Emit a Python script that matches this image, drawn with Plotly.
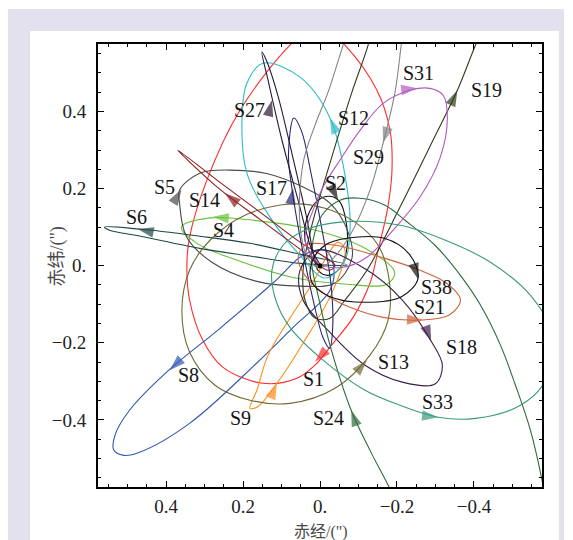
import plotly.graph_objects as go

# ---- orbit tracks (arcsec; x = RA offset, y = Dec offset) ----
S1_x = [0.078, 0.208, 0.294, 0.339, 0.346, 0.339, 0.305, 0.253, 0.148, 0.060, 0.008, -0.026, -0.086, -0.130, -0.151, -0.176, -0.187, -0.182, -0.148, -0.065, 0.005, 0.078]
S1_y = [0.572, 0.403, 0.222, 0.074, 0.001, -0.089, -0.193, -0.263, -0.305, -0.292, -0.253, -0.211, -0.134, -0.045, 0.040, 0.150, 0.245, 0.351, 0.455, 0.572, 0.630, 0.572]
S2_x = [0.013, 0.039, 0.031, 0.005, -0.026, -0.052, -0.068, -0.070, -0.052, -0.021, 0.005, 0.013]
S2_y = [0.009, 0.066, 0.131, 0.170, 0.180, 0.165, 0.113, 0.045, -0.006, -0.025, -0.012, 0.009]
S4_x = [0.286, 0.167, 0.024, -0.117, -0.194, -0.174, -0.070, 0.073, 0.215, 0.320, 0.360, 0.286]
S4_y = [0.124, 0.117, 0.095, 0.045, -0.017, -0.048, -0.048, -0.030, 0.014, 0.058, 0.100, 0.124]
S5_x = [0.365, 0.3125, 0.234, 0.139, 0.044, -0.026, -0.073, -0.083, -0.039, 0.052, 0.167, 0.281, 0.347, 0.365, 0.365]
S5_y = [0.196, 0.240, 0.248, 0.239, 0.204, 0.162, 0.087, 0.019, -0.045, -0.053, -0.040, 0.009, 0.075, 0.162, 0.196]
S6_x = [0.560, 0.469, 0.3125, 0.182, 0.052, -0.070, 0.052, 0.182, 0.3125, 0.469, 0.547, 0.560]
S6_y = [0.100, 0.095, 0.0765, 0.058, 0.030, 0.002, 0.006, 0.025, 0.045, 0.077, 0.092, 0.100]
S8_x = [-0.013, 0.044, 0.120, 0.263, 0.393, 0.495, 0.533, 0.536, 0.510, 0.469, 0.339, 0.165, 0.070, -0.026, -0.035, -0.013]
S8_y = [0.040, 0.027, -0.043, -0.165, -0.271, -0.375, -0.440, -0.478, -0.492, -0.484, -0.409, -0.253, -0.160, -0.064, 0.000, 0.040]
S9_x = [0.182, 0.164, 0.135, 0.078, 0.018, -0.021, -0.047, -0.065, -0.034, 0.044, 0.112, 0.161, 0.182]
S9_y = [-0.370, -0.323, -0.232, -0.136, -0.043, 0.030, 0.061, 0.040, -0.064, -0.201, -0.305, -0.365, -0.370]
S12_x = [0.148, 0.052, -0.026, -0.070, -0.078, -0.0625, -0.013, 0.052, 0.130, 0.190, 0.203, 0.190, 0.148]
S12_y = [0.525, 0.489, 0.383, 0.204, 0.092, 0.009, -0.032, 0.027, 0.126, 0.240, 0.370, 0.473, 0.525]
S13_x = [0.073, -0.013, -0.091, -0.151, -0.180, -0.177, -0.130, -0.039, 0.078, 0.182, 0.273, 0.339, 0.359, 0.339, 0.286, 0.195, 0.073]
S13_y = [0.160, 0.149, 0.113, 0.053, -0.038, -0.141, -0.232, -0.318, -0.357, -0.349, -0.310, -0.224, -0.115, -0.012, 0.066, 0.131, 0.160]
S14_x = [0.370, 0.260, 0.156, 0.052, -0.039, -0.021, 0.052, 0.156, 0.260, 0.344, 0.370]
S14_y = [0.300, 0.216, 0.139, 0.061, 0.000, -0.012, 0.043, 0.120, 0.198, 0.274, 0.300]
S17_x = [0.068, 0.048, 0.024, -0.004, -0.028, -0.033, -0.025, -0.008, 0.016, 0.039, 0.058, 0.073, 0.082, 0.068]
S17_y = [0.383, 0.349, 0.243, 0.100, -0.043, -0.160, -0.214, -0.187, -0.097, 0.009, 0.108, 0.201, 0.287, 0.383]
S18_x = [0.005, -0.117, -0.214, -0.289, -0.318, -0.299, -0.214, -0.117, -0.023, 0.044, 0.052, 0.005]
S18_y = [0.040, -0.008, -0.089, -0.196, -0.258, -0.307, -0.302, -0.258, -0.170, -0.089, -0.012, 0.040]
S19_x = [-0.133, -0.125, -0.083, -0.026, 0.021, 0.044, 0.039, 0.013, -0.026, -0.065, -0.122, -0.208, -0.294, -0.357, -0.404, -0.422]
S19_y = [0.611, 0.572, 0.450, 0.266, 0.105, -0.012, -0.089, -0.136, -0.136, -0.089, -0.012, 0.152, 0.326, 0.455, 0.572, 0.611]
S21_x = [0.039, -0.039, -0.169, -0.260, -0.328, -0.365, -0.336, -0.260, -0.164, -0.078, -0.013, 0.039, 0.057, 0.039]
S21_y = [0.053, 0.053, 0.019, -0.012, -0.045, -0.089, -0.128, -0.141, -0.134, -0.108, -0.074, -0.025, 0.019, 0.053]
S24_x = [-0.195, -0.180, -0.130, -0.081, -0.026, 0.005, 0.021, 0.018, -0.005, -0.052, -0.104, -0.169, -0.221, -0.299, -0.365, -0.417, -0.469, -0.508, -0.547, -0.576, -0.586]
S24_y = [-0.608, -0.575, -0.479, -0.375, -0.206, -0.077, 0.001, 0.066, 0.131, 0.170, 0.175, 0.157, 0.118, 0.053, -0.025, -0.102, -0.206, -0.310, -0.427, -0.551, -0.608]
S27_x = [0.151, 0.135, 0.099, 0.057, 0.021, -0.005, 0.010, 0.036, 0.072, 0.110, 0.140, 0.151]
S27_y = [0.554, 0.481, 0.326, 0.170, 0.040, -0.006, 0.009, 0.131, 0.287, 0.443, 0.534, 0.554]
S29_x = [-0.216, -0.211, -0.195, -0.164, -0.130, -0.078, -0.034, 0.000, 0.031, 0.052, 0.044, 0.013, -0.021, -0.060, -0.073]
S29_y = [0.611, 0.572, 0.450, 0.318, 0.196, 0.079, 0.019, -0.006, 0.019, 0.105, 0.266, 0.364, 0.450, 0.572, 0.611]
S31_x = [0.000, 0.039, 0.018, -0.008, -0.052, -0.104, -0.164, -0.234, -0.286, -0.320, -0.331, -0.3125, -0.260, -0.190, -0.122, -0.060, 0.000]
S31_y = [0.004, 0.066, 0.144, 0.204, 0.274, 0.351, 0.421, 0.455, 0.460, 0.442, 0.385, 0.281, 0.178, 0.092, 0.022, -0.004, 0.004]
S33_x = [0.125, 0.096, 0.039, -0.052, -0.208, -0.326, -0.443, -0.547, -0.599, -0.586, -0.521, -0.404, -0.307, -0.208, -0.117, -0.008, 0.078, 0.115, 0.125]
S33_y = [-0.012, 0.053, 0.092, 0.113, 0.105, 0.066, 0.009, -0.077, -0.167, -0.297, -0.362, -0.396, -0.393, -0.362, -0.323, -0.245, -0.160, -0.089, -0.012]
S38_x = [0.021, -0.013, -0.070, -0.167, -0.232, -0.255, -0.214, -0.117, -0.023, 0.021, 0.021]
S38_y = [0.009, 0.053, 0.071, 0.071, 0.030, -0.032, -0.079, -0.095, -0.079, -0.043, 0.009]

stars = ["S1", "S2", "S4", "S5", "S6", "S8", "S9", "S12", "S13", "S14",
         "S17", "S18", "S19", "S21", "S24", "S27", "S29", "S31", "S33", "S38"]

# direction arrows: tail point -> arrow position
arrow_tail_x = [-0.013, -0.038, 0.250, 0.372, 0.440, 0.360, 0.125, -0.040, -0.100, 0.222,
                0.075, -0.279, -0.343, -0.240, -0.092, 0.132, -0.172, -0.225, -0.280, -0.247]
arrow_tail_y = [-0.222, 0.188, 0.124, 0.178, 0.088, -0.242, -0.335, 0.350, -0.270, 0.168,
                0.170, -0.170, 0.425, -0.140, -0.405, 0.400, 0.345, 0.457, -0.390, -0.008]
arrow_x = [0.013, -0.047, 0.279, 0.360, 0.474, 0.391, 0.112, -0.026, -0.122, 0.247,
           0.070, -0.289, -0.357, -0.268, -0.081, 0.125, -0.164, -0.253, -0.307, -0.255]
arrow_y = [-0.249, 0.170, 0.127, 0.198, 0.095, -0.271, -0.305, 0.383, -0.245, 0.188,
           0.201, -0.196, 0.455, -0.141, -0.375, 0.429, 0.318, 0.460, -0.393, -0.035]

# star name labels
label_x = [0.016, -0.039, 0.252, 0.405, 0.477, 0.343, 0.206, -0.087, -0.192, 0.299,
           0.125, -0.368, -0.432, -0.284, -0.023, 0.182, -0.125, -0.255, -0.305, -0.302]
label_y = [-0.294, 0.214, 0.092, 0.204, 0.127, -0.284, -0.396, 0.383, -0.250, 0.170,
           0.201, -0.211, 0.455, -0.106, -0.396, 0.403, 0.281, 0.499, -0.354, -0.056]

x_tick_vals = [0.4, 0.2, 0.0, -0.2, -0.4]
x_tick_text = ["0.4", "0.2", "0.", "\u22120.2", "\u22120.4"]
y_tick_vals = [-0.4, -0.2, 0.0, 0.2, 0.4]
y_tick_text = ["\u22120.4", "\u22120.2", "0.", "0.2", "0.4"]

colors = {
    "S1": "#ff2a2a", "S2": "#111111", "S4": "#66c23a", "S5": "#4a4a4a", "S6": "#1d4747",
    "S8": "#2f56b0", "S9": "#ff8c1a", "S12": "#2bbcc8", "S13": "#6e6a34", "S14": "#8c1c1c",
    "S17": "#262673", "S18": "#3b1d4a", "S19": "#2e3a1c", "S21": "#d0623c", "S24": "#2c6b3c",
    "S27": "#2a1832", "S29": "#858585", "S31": "#b056bf", "S33": "#3b9b7a", "S38": "#111111",
}

tracks = {name: (globals()[name + "_x"], globals()[name + "_y"]) for name in stars}

fig = go.Figure()
for name in stars:
    xs, ys = tracks[name]
    fig.add_trace(go.Scatter(x=xs, y=ys, mode="lines", name=name,
                             line=dict(color=colors[name], width=1.1, shape="spline", smoothing=1.0),
                             hoverinfo="skip", showlegend=False))

for i, name in enumerate(stars):
    fig.add_trace(go.Scatter(x=[arrow_tail_x[i], arrow_x[i]], y=[arrow_tail_y[i], arrow_y[i]],
                             mode="markers",
                             marker=dict(symbol="arrow", size=[0, 17], angleref="previous",
                                         color=colors[name], line=dict(width=0)),
                             hoverinfo="skip", showlegend=False))

# Sgr A* position
fig.add_trace(go.Scatter(x=[0.0], y=[0.0], mode="markers",
                         marker=dict(color="black", size=5), hoverinfo="skip", showlegend=False))

serif = "Liberation Serif, Times New Roman, serif"
annotations = []
for i, name in enumerate(stars):
    annotations.append(dict(x=label_x[i], y=label_y[i], xref="x", yref="y", text=name,
                            showarrow=False, font=dict(family=serif, size=20, color="#151515"),
                            xanchor="center", yanchor="middle"))

title_font = dict(family="Noto Sans CJK SC", size=16, color="#4a4a4a")
annotations.append(dict(x=0.502, y=-0.096, xref="paper", yref="paper",
                        text="赤经<span style='font-family:Liberation Serif'>/(\")</span>",
                        showarrow=False, font=title_font, xanchor="center", yanchor="middle"))
annotations.append(dict(x=-0.097, y=0.52, xref="paper", yref="paper",
                        text="赤纬<span style='font-family:Liberation Serif'>/(\")</span>",
                        showarrow=False, font=dict(family="Noto Sans CJK SC", size=18, color="#4a4a4a"),
                        textangle=-90, xanchor="center", yanchor="middle"))

axis_common = dict(showgrid=False, zeroline=False, showline=True, linewidth=2, linecolor="black",
                   mirror="allticks", ticks="inside", ticklen=6, tickwidth=1.3, tickcolor="black",
                   tickfont=dict(family=serif, size=19, color="#222222"),
                   minor=dict(dtick=0.05, ticklen=3, tickwidth=1, tickcolor="black", ticks="inside"))

# the page adds an 8px body margin, so the figure is sized to fit the 573x540 window
fig.update_layout(
    width=565, height=532,
    margin=dict(l=90, r=31, t=36, b=53),
    paper_bgcolor="white", plot_bgcolor="white",
    xaxis=dict(range=[0.577, -0.577], tickvals=x_tick_vals, ticktext=x_tick_text,
               ticklabelstandoff=1, **axis_common),
    yaxis=dict(range=[-0.574, 0.575], tickvals=y_tick_vals, ticktext=y_tick_text,
               ticklabelstandoff=6, **axis_common),
    annotations=annotations,
    shapes=[
        dict(type="rect", xref="paper", yref="paper", x0=-0.2027, x1=1.0495, y0=-0.13, y1=1.079,
             fillcolor="#e4e1ef", line=dict(width=0), layer="below"),
        dict(type="rect", xref="paper", yref="paper", x0=-0.1532, x1=1.0383, y0=-0.13, y1=1.0293,
             fillcolor="white", line=dict(width=0), layer="below"),
    ],
)

fig.write_html("out.html")
